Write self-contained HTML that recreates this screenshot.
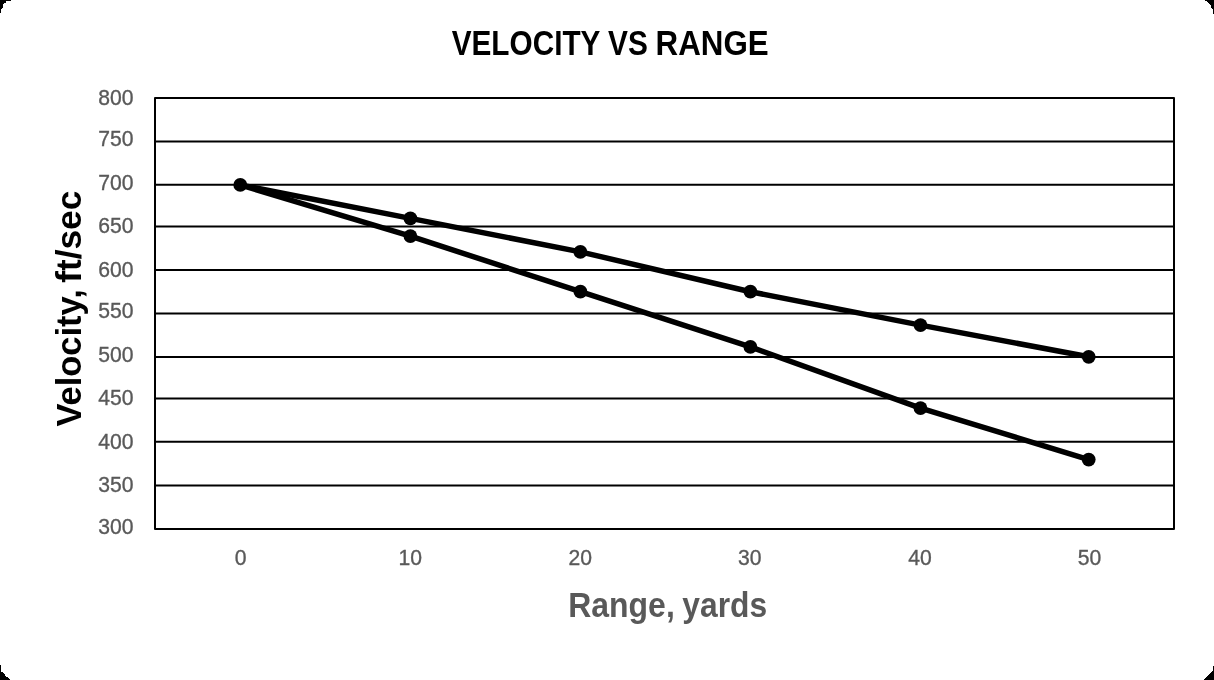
<!DOCTYPE html>
<html><head><meta charset="utf-8">
<style>
html,body{margin:0;padding:0;background:#fff;width:1214px;height:680px;overflow:hidden}
#card{will-change:transform;position:absolute;left:0;top:0;width:1214px;height:680px;background:#fff;overflow:hidden}
svg{position:absolute;left:0;top:0}
text{font-family:"Liberation Sans",sans-serif}
</style></head>
<body>
<div id="card">
<svg width="1214" height="680" viewBox="0 0 1214 680">

<path fill="#000" shape-rendering="crispEdges" d="M0 0h11v1h-11zM0 1h6v1h-6zM0 2h6v1h-6zM0 3h4v1h-4zM0 4h3v1h-3zM0 5h3v1h-3zM0 6h3v1h-3zM0 7h3v1h-3zM0 8h2v1h-2zM0 9h1v1h-1zM0 10h1v1h-1zM0 11h1v1h-1zM0 12h1v1h-1zM1205 0h9v1h-9zM1207 1h7v1h-7zM1208 2h6v1h-6zM1209 3h5v1h-5zM1210 4h4v1h-4zM1211 5h3v1h-3zM1211 6h3v1h-3zM1211 7h3v1h-3zM1212 8h2v1h-2zM1213 9h1v1h-1zM1213 10h1v1h-1zM1213 11h1v1h-1zM1213 12h1v1h-1zM1213 13h1v1h-1zM0 665h1v1h-1zM0 666h1v1h-1zM0 667h1v1h-1zM0 668h1v1h-1zM0 669h1v1h-1zM0 670h1v1h-1zM0 671h1v1h-1zM0 672h3v1h-3zM0 673h4v1h-4zM0 674h5v1h-5zM0 675h5v1h-5zM0 676h6v1h-6zM0 677h8v1h-8zM0 678h9v1h-9zM0 679h10v1h-10zM1213 666h1v1h-1zM1213 667h1v1h-1zM1213 668h1v1h-1zM1213 669h1v1h-1zM1213 670h1v1h-1zM1212 671h2v1h-2zM1211 672h3v1h-3zM1210 673h4v1h-4zM1209 674h5v1h-5zM1208 675h6v1h-6zM1207 676h7v1h-7zM1206 677h8v1h-8zM1205 678h9v1h-9zM1204 679h10v1h-10z"/>
<text x="451.69" y="55.00" font-size="35.00" font-weight="bold" fill="#000" textLength="148.77" lengthAdjust="spacingAndGlyphs">VELOCITY</text>
<text x="608.01" y="55.00" font-size="35.00" font-weight="bold" fill="#000" textLength="39.80" lengthAdjust="spacingAndGlyphs">VS</text>
<text x="655.60" y="55.00" font-size="35.00" font-weight="bold" fill="#000" textLength="113.02" lengthAdjust="spacingAndGlyphs">RANGE</text>
<text x="568.22" y="617.00" font-size="34.80" font-weight="bold" fill="#595959" textLength="106.55" lengthAdjust="spacingAndGlyphs">Range,</text>
<text x="682.36" y="617.00" font-size="34.80" font-weight="bold" fill="#595959" textLength="84.83" lengthAdjust="spacingAndGlyphs">yards</text>
<text transform="translate(80.50,426.47) rotate(-90)" x="0" y="0" font-size="35.00" font-weight="bold" fill="#000" textLength="137.18" lengthAdjust="spacingAndGlyphs">Velocity,</text>
<text transform="translate(80.50,282.84) rotate(-90)" x="0" y="0" font-size="35.00" font-weight="bold" fill="#000" textLength="92.14" lengthAdjust="spacingAndGlyphs">ft/sec</text>
<g transform="translate(133.60,104.90) scale(0.9430,1)"><text x="0" y="0" font-size="22.40" fill="#595959" stroke="#595959" stroke-width="0.35" text-anchor="end">800</text></g>
<g transform="translate(133.60,146.10) scale(0.9430,1)"><text x="0" y="0" font-size="22.40" fill="#595959" stroke="#595959" stroke-width="0.35" text-anchor="end">750</text></g>
<g transform="translate(133.60,190.10) scale(0.9430,1)"><text x="0" y="0" font-size="22.40" fill="#595959" stroke="#595959" stroke-width="0.35" text-anchor="end">700</text></g>
<g transform="translate(133.60,233.10) scale(0.9430,1)"><text x="0" y="0" font-size="22.40" fill="#595959" stroke="#595959" stroke-width="0.35" text-anchor="end">650</text></g>
<g transform="translate(133.60,277.00) scale(0.9430,1)"><text x="0" y="0" font-size="22.40" fill="#595959" stroke="#595959" stroke-width="0.35" text-anchor="end">600</text></g>
<g transform="translate(133.60,318.10) scale(0.9430,1)"><text x="0" y="0" font-size="22.40" fill="#595959" stroke="#595959" stroke-width="0.35" text-anchor="end">550</text></g>
<g transform="translate(133.60,362.10) scale(0.9430,1)"><text x="0" y="0" font-size="22.40" fill="#595959" stroke="#595959" stroke-width="0.35" text-anchor="end">500</text></g>
<g transform="translate(133.60,405.00) scale(0.9430,1)"><text x="0" y="0" font-size="22.40" fill="#595959" stroke="#595959" stroke-width="0.35" text-anchor="end">450</text></g>
<g transform="translate(133.60,449.00) scale(0.9430,1)"><text x="0" y="0" font-size="22.40" fill="#595959" stroke="#595959" stroke-width="0.35" text-anchor="end">400</text></g>
<g transform="translate(133.60,492.00) scale(0.9430,1)"><text x="0" y="0" font-size="22.40" fill="#595959" stroke="#595959" stroke-width="0.35" text-anchor="end">350</text></g>
<g transform="translate(133.60,534.10) scale(0.9430,1)"><text x="0" y="0" font-size="22.40" fill="#595959" stroke="#595959" stroke-width="0.35" text-anchor="end">300</text></g>
<g transform="translate(240.50,565.00) scale(0.9430,1)"><text x="0" y="0" font-size="22.40" fill="#595959" stroke="#595959" stroke-width="0.35" text-anchor="middle">0</text></g>
<g transform="translate(410.20,565.00) scale(0.9430,1)"><text x="0" y="0" font-size="22.40" fill="#595959" stroke="#595959" stroke-width="0.35" text-anchor="middle">10</text></g>
<g transform="translate(580.20,565.00) scale(0.9430,1)"><text x="0" y="0" font-size="22.40" fill="#595959" stroke="#595959" stroke-width="0.35" text-anchor="middle">20</text></g>
<g transform="translate(749.80,565.00) scale(0.9430,1)"><text x="0" y="0" font-size="22.40" fill="#595959" stroke="#595959" stroke-width="0.35" text-anchor="middle">30</text></g>
<g transform="translate(920.00,565.00) scale(0.9430,1)"><text x="0" y="0" font-size="22.40" fill="#595959" stroke="#595959" stroke-width="0.35" text-anchor="middle">40</text></g>
<g transform="translate(1089.40,565.00) scale(0.9430,1)"><text x="0" y="0" font-size="22.40" fill="#595959" stroke="#595959" stroke-width="0.35" text-anchor="middle">50</text></g>
<g stroke="#000" stroke-width="2" fill="none">
<line x1="155" y1="141.5" x2="1174" y2="141.5"/>
<line x1="155" y1="184.8" x2="1174" y2="184.8"/>
<line x1="155" y1="226.4" x2="1174" y2="226.4"/>
<line x1="155" y1="270" x2="1174" y2="270"/>
<line x1="155" y1="313.4" x2="1174" y2="313.4"/>
<line x1="155" y1="357" x2="1174" y2="357"/>
<line x1="155" y1="398.4" x2="1174" y2="398.4"/>
<line x1="155" y1="441.8" x2="1174" y2="441.8"/>
<line x1="155" y1="485.5" x2="1174" y2="485.5"/>
<rect stroke-linejoin="round" x="155" y="98" width="1019" height="431"/>
</g>
<g stroke="#000" stroke-width="5.5" fill="none" stroke-linejoin="round">
<polyline points="240.3,184.9 410.4,218.4 580.4,251.9 750.4,291.7 920.5,325.1 1088.7,356.8"/>
<polyline points="240.3,184.9 410.4,236.1 580.4,291.7 750.4,346.9 920.5,408.2 1088.7,459.6"/>
</g><g fill="#000">
<circle cx="240.3" cy="184.9" r="6.9"/>
<circle cx="410.4" cy="218.4" r="6.9"/>
<circle cx="580.4" cy="251.9" r="6.9"/>
<circle cx="750.4" cy="291.7" r="6.9"/>
<circle cx="920.5" cy="325.1" r="6.9"/>
<circle cx="1088.7" cy="356.8" r="6.9"/>
<circle cx="410.4" cy="236.1" r="6.9"/>
<circle cx="580.4" cy="291.7" r="6.9"/>
<circle cx="750.4" cy="346.9" r="6.9"/>
<circle cx="920.5" cy="408.2" r="6.9"/>
<circle cx="1088.7" cy="459.6" r="6.9"/>
</g>
</svg>
</div>
</body></html>
